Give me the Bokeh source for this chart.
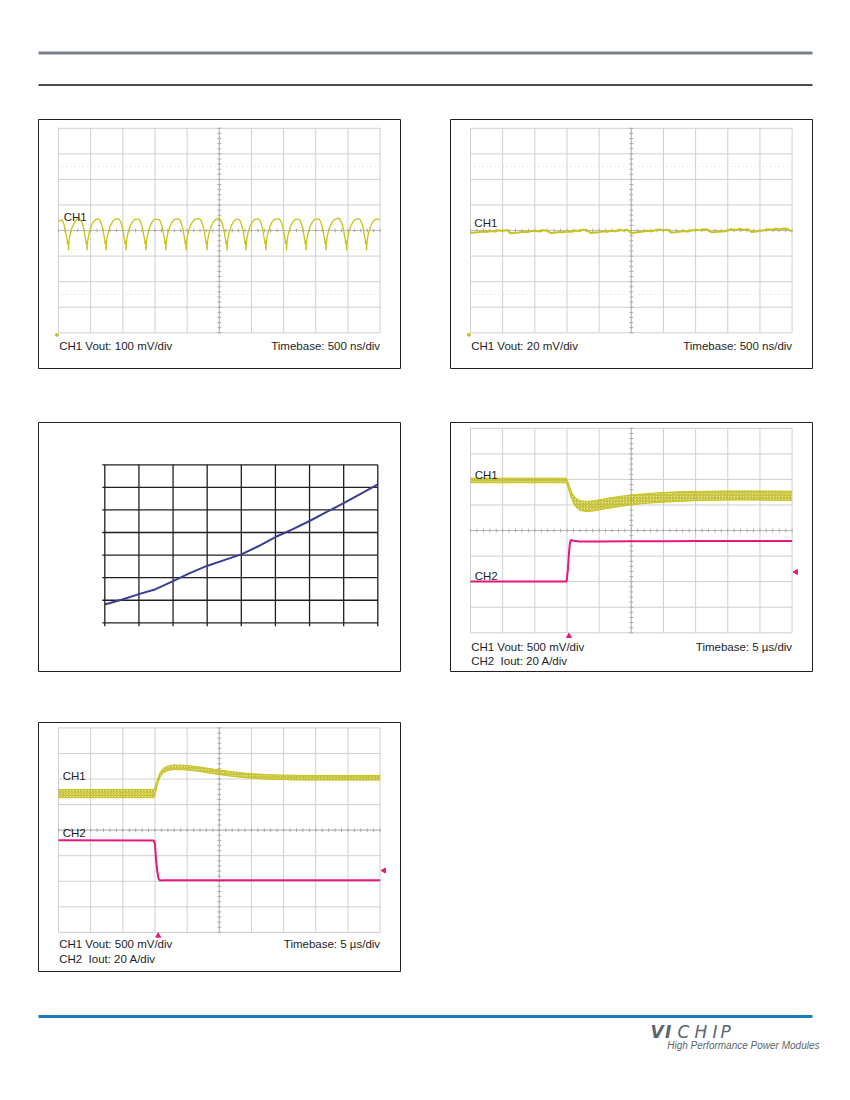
import numpy as np
from bokeh.plotting import figure
from bokeh.layouts import column, row
from bokeh.models import Spacer, Range1d, Label
from bokeh.embed import file_html
from bokeh.resources import INLINE
from bokeh.core.properties import value

FONT = "Liberation Sans"
YEL = "#c8c41a"
PINK = "#e6187e"
GRIDC = "#cfcfcf"
TXT = "#1e1e1e"

# ---------------- data ----------------
# graticule divisions
GRID_X = list(range(0, 11))
GRID_Y = list(range(-4, 5))

# Panel A : output ripple, 100 mV/div, 500 ns/div (peaks of each ripple cycle)
A_PEAK_X = [0.06, 0.64, 1.23, 1.85, 2.47, 3.09, 3.72, 4.37, 4.99, 5.58, 6.20, 6.84, 7.45, 8.07, 8.71, 9.33, 9.93]
A_PEAK_Y = [0.40, 0.45, 0.46, 0.47, 0.45, 0.44, 0.46, 0.47, 0.48, 0.45, 0.46, 0.46, 0.44, 0.46, 0.49, 0.47, 0.45]
# shape of one ripple cycle after its peak (offset in div, level in div)
A_CYCLE_DX = [0.05, 0.10, 0.15, 0.19, 0.21, 0.22, 0.235, 0.25, 0.265, 0.28, 0.31, 0.37, 0.44, 0.52]
A_CYCLE_Y = [0.42, 0.28, 0.05, -0.25, -0.38, -0.52, -0.40, -0.78, -0.45, -0.30, -0.10, 0.15, 0.33, 0.44]

# Panel B : output ripple, 20 mV/div, 500 ns/div
B_X = [i * 0.125 for i in range(81)]
B_Y = [-0.10, -0.08, -0.07, -0.04, -0.06, -0.02, -0.04, 0.01, -0.02, 0.02,
       -0.11, -0.09, -0.08, -0.05, -0.07, -0.03, -0.01, -0.04, 0.01, 0.00,
       -0.10, -0.09, -0.06, -0.07, -0.04, -0.05, 0.00, -0.02, 0.03, 0.01,
       -0.10, -0.08, -0.07, -0.03, -0.05, -0.01, -0.03, 0.02, 0.00, 0.03,
       -0.11, -0.08, -0.06, -0.04, -0.01, -0.03, 0.01, 0.04, 0.01, 0.03,
       -0.08, -0.07, -0.05, -0.02, -0.04, 0.00, 0.03, 0.01, 0.05, 0.03,
       -0.07, -0.06, -0.03, -0.04, 0.01, 0.05, 0.02, 0.06, 0.03, 0.05,
       -0.06, -0.04, -0.02, 0.01, 0.05, 0.03, 0.07, 0.04, 0.08, 0.05, -0.04]

# Panel C : curve on an 8 x 7 grid (axis labels absent in source)
C_X = [0, 0.49, 1.0, 1.49, 2.0, 2.49, 3.01, 3.52, 4.0, 4.48, 5.0, 5.51, 6.0, 6.49, 7.0, 7.47, 8.0]
C_Y = [0.81, 1.02, 1.27, 1.49, 1.85, 2.20, 2.53, 2.79, 3.03, 3.38, 3.80, 4.15, 4.51, 4.90, 5.30, 5.69, 6.13]

# Panel D : load step up (CH1 Vout 500 mV/div, CH2 Iout 20 A/div, 5 us/div)
D_V_X = [0, 2.98, 3.02, 3.08, 3.15, 3.25, 3.40, 3.60, 3.85, 4.20, 4.60, 5.00, 5.50, 6.00, 6.50, 7.00, 8.00, 9.00, 10.0]
D_V_C = [1.96, 1.96, 1.85, 1.60, 1.35, 1.12, 0.98, 0.94, 0.97, 1.05, 1.13, 1.20, 1.26, 1.30, 1.33, 1.35, 1.37, 1.37, 1.36]
D_V_A = [0.09, 0.09, 0.10, 0.12, 0.14, 0.17, 0.19, 0.20, 0.20, 0.20, 0.20, 0.19, 0.19, 0.19, 0.19, 0.18, 0.18, 0.18, 0.18]
D_I_X = [0, 2.99, 3.03, 3.06, 3.09, 3.12, 3.20, 3.40, 4.0, 5.0, 6.0, 7.0, 8.0, 9.0, 10.0]
D_I_Y = [-1.99, -1.99, -1.5, -0.9, -0.5, -0.37, -0.40, -0.43, -0.43, -0.42, -0.42, -0.41, -0.41, -0.41, -0.41]
D_TRIG_X = 3.06
D_LEVEL_Y = -1.62

# Panel E : load step down
E_V_X = [0, 2.97, 3.02, 3.08, 3.15, 3.25, 3.40, 3.60, 3.90, 4.30, 4.80, 5.30, 5.80, 6.50, 7.50, 8.50, 10.0]
E_V_C = [1.43, 1.43, 1.60, 1.90, 2.15, 2.32, 2.42, 2.46, 2.45, 2.40, 2.30, 2.21, 2.14, 2.08, 2.05, 2.05, 2.05]
E_V_A = [0.16, 0.16, 0.12, 0.10, 0.09, 0.09, 0.09, 0.09, 0.09, 0.09, 0.09, 0.09, 0.09, 0.09, 0.09, 0.09, 0.09]
E_I_X = [0, 2.96, 3.00, 3.03, 3.07, 3.11, 3.15, 3.30, 4.0, 6.0, 8.0, 10.0]
E_I_Y = [-0.40, -0.41, -0.55, -1.10, -1.60, -1.90, -1.97, -1.96, -1.96, -1.96, -1.96, -1.96]
E_TRIG_X = 3.10
E_LEVEL_Y = -1.58

# ---------------- helpers ----------------
FW, FH = 362, 249
PPD_X, PPD_Y = 32.16, 25.56


def base_fig(xr, yr):
    p = figure(width=FW + 2, height=FH + 2, x_range=xr, y_range=yr,
               x_axis_type=None, y_axis_type=None, toolbar_location=None,
               output_backend="svg", min_border=1)
    p.outline_line_color = "#231f20"
    p.outline_line_width = 1
    p.background_fill_color = "white"
    p.border_fill_color = "white"
    return p


def label(p, x, y, text, align="left", size="11.5px"):
    p.add_layout(Label(x=x, y=y, text=text, text_font=FONT, text_font_size=size,
                       text_color=TXT, text_align=align, text_baseline="alphabetic"))


def scope(top_off, dotted=False):
    left_off = 20.0
    bottom_off = FH - top_off - 8 * PPD_Y
    xr = Range1d(-left_off / PPD_X, 10 + (FW - left_off - 10 * PPD_X) / PPD_X)
    yr = Range1d(-4 - bottom_off / PPD_Y, 4 + top_off / PPD_Y)
    p = base_fig(xr, yr)
    p.segment(x0=GRID_X, y0=-4, x1=GRID_X, y1=4, line_color=GRIDC, line_width=1)
    p.segment(x0=0, y0=GRID_Y, x1=10, y1=GRID_Y, line_color=GRIDC, line_width=1)
    if dotted:
        p.segment(x0=0, y0=[2.5, -2.5], x1=10, y1=[2.5, -2.5], line_color="#d6d6d6",
                  line_width=1, line_dash="1 3")
    p.segment(x0=5, y0=-4, x1=5, y1=4, line_color="#b9b9b9", line_width=1)
    p.segment(x0=0, y0=0, x1=10, y1=0, line_color="#b9b9b9", line_width=1)
    tx = np.arange(0, 10.001, 0.2)
    ty = np.arange(-4, 4.001, 0.2)
    p.segment(x0=tx, y0=-0.07, x1=tx, y1=0.07, line_color="#a8a8a8", line_width=1)
    p.segment(x0=4.94, y0=ty, x1=5.06, y1=ty, line_color="#a8a8a8", line_width=1)
    return p


# ---------------- header ----------------
head = figure(width=834, height=118, x_range=Range1d(0, 834), y_range=Range1d(118, 0),
              x_axis_type=None, y_axis_type=None, toolbar_location=None,
              output_backend="svg", min_border=0)
head.outline_line_color = None
head.quad(left=38, right=812, top=51, bottom=54, fill_color="#7b8089", line_color=None)
head.quad(left=38, right=812, top=83.8, bottom=85.2, fill_color="#111111", line_color=None)

# ---------------- panel A ----------------
pa = scope(8.8, dotted=True)
ax, ay = [0.0], [0.33]
for px, py in zip(A_PEAK_X, A_PEAK_Y):
    ax.append(px)
    ay.append(py)
    for dx, dy in zip(A_CYCLE_DX, A_CYCLE_Y):
        if px + dx <= 10:
            ax.append(px + dx)
            ay.append(dy)
pa.line(ax, ay, line_color=YEL, line_width=1.3)
pa.scatter([-0.05], [-4.08], size=3, color=YEL, marker="circle")
label(pa, 0.16, 0.52, "CH1")
label(pa, 0.02, -4.5, "CH1 Vout: 100 mV/div")
label(pa, 10.0, -4.5, "Timebase: 500 ns/div", align="right")

# ---------------- panel B ----------------
pb = scope(8.8, dotted=True)
pb.line(B_X, B_Y, line_color=YEL, line_width=2)
pb.scatter([-0.05], [-4.08], size=3, color=YEL, marker="circle")
label(pb, 0.12, 0.29, "CH1")
label(pb, 0.02, -4.5, "CH1 Vout: 20 mV/div")
label(pb, 10.0, -4.5, "Timebase: 500 ns/div", align="right")

# ---------------- panel C ----------------
cl, cr, ct, cb = 66.3, 22.7, 42.3, 48.7
cxp = (FW - cl - cr) / 8.0
cyp = (FH - ct - cb) / 7.0
pc = base_fig(Range1d(-cl / cxp, 8 + cr / cxp), Range1d(-cb / cyp, 7 + ct / cyp))
CX_GRID = list(range(0, 9))
CY_GRID = list(range(0, 8))
pc.segment(x0=CX_GRID, y0=-3.5 / cyp, x1=CX_GRID, y1=7, line_color="#231f20", line_width=1.3)
pc.segment(x0=-2.5 / cxp, y0=CY_GRID, x1=8, y1=CY_GRID, line_color="#231f20", line_width=1.3)
pc.line(C_X, C_Y, line_color="#3a3d96", line_width=2)

# ---------------- panel D ----------------
pd_ = scope(5.8)
dl = [c - a for c, a in zip(D_V_C, D_V_A)]
du = [c + a for c, a in zip(D_V_C, D_V_A)]
pd_.varea(x=D_V_X, y1=dl, y2=du, fill_color=YEL, fill_alpha=0.45,
          hatch_pattern="/", hatch_color="#b8b414", hatch_scale=3, hatch_weight=1)
pd_.line(D_V_X, dl, line_color=YEL, line_width=1)
pd_.line(D_V_X, du, line_color=YEL, line_width=1)
pd_.line(D_I_X, D_I_Y, line_color=PINK, line_width=2)
pd_.scatter([D_TRIG_X], [-4.13], marker="triangle", size=5, color=PINK)
pd_.scatter([10.12], [D_LEVEL_Y], marker="triangle", angle=np.pi / 2, size=5, color=PINK)
label(pd_, 0.13, 2.19, "CH1")
label(pd_, 0.13, -1.79, "CH2")
label(pd_, 0.02, -4.54, "CH1 Vout: 500 mV/div")
label(pd_, 0.02, -5.11, "CH2\u00a0 Iout: 20 A/div")
label(pd_, 10.0, -4.54, "Timebase: 5 \u00b5s/div", align="right")

# ---------------- panel E ----------------
pe = scope(5.4)
el = [c - a for c, a in zip(E_V_C, E_V_A)]
eu = [c + a for c, a in zip(E_V_C, E_V_A)]
pe.varea(x=E_V_X, y1=el, y2=eu, fill_color=YEL, fill_alpha=0.45,
         hatch_pattern="/", hatch_color="#b8b414", hatch_scale=3, hatch_weight=1)
pe.line(E_V_X, el, line_color=YEL, line_width=1)
pe.line(E_V_X, eu, line_color=YEL, line_width=1)
pe.line(E_I_X, E_I_Y, line_color=PINK, line_width=2)
pe.scatter([E_TRIG_X], [-4.13], marker="triangle", size=5, color=PINK)
pe.scatter([10.12], [E_LEVEL_Y], marker="triangle", angle=np.pi / 2, size=5, color=PINK)
label(pe, 0.13, 2.11, "CH1")
label(pe, 0.13, -0.11, "CH2")
label(pe, 0.02, -4.47, "CH1 Vout: 500 mV/div")
label(pe, 0.02, -5.04, "CH2\u00a0 Iout: 20 A/div")
label(pe, 10.0, -4.47, "Timebase: 5 \u00b5s/div", align="right")

# ---------------- footer ----------------
foot = figure(width=834, height=88, x_range=Range1d(0, 834), y_range=Range1d(88, 0),
              x_axis_type=None, y_axis_type=None, toolbar_location=None,
              output_backend="svg", min_border=0)
foot.outline_line_color = None
foot.quad(left=38, right=812, top=42.5, bottom=45.5, fill_color="#1a7dc2", line_color=None)
LOGO_TXT = ["V", "I", "C", "H", "I", "P"]
LOGO_X = [650.0, 664.5, 677.0, 694.0, 712.0, 720.0]
LOGO_STYLE = ["bold italic", "bold italic", "italic", "italic", "italic", "italic"]
for t, x, s in zip(LOGO_TXT, LOGO_X, LOGO_STYLE):
    foot.add_layout(Label(x=x, y=59, text=t, text_font="DejaVu Sans", text_font_size="17px",
                          text_font_style=s, text_color="#5a6570", text_baseline="alphabetic"))
foot.add_layout(Label(x=666.7, y=72.5, text="High Performance Power Modules", text_font=FONT,
                      text_font_size="10px", text_font_style="italic", text_color="#5a6570",
                      text_baseline="alphabetic"))

page = column(
    head,
    row(Spacer(width=37, height=251), pa, Spacer(width=48, height=251), pb),
    Spacer(width=834, height=52),
    row(Spacer(width=37, height=251), pc, Spacer(width=48, height=251), pd_),
    Spacer(width=834, height=49),
    row(Spacer(width=37, height=251), pe),
    foot,
)

open("out.html", "w").write(file_html(page, INLINE))
